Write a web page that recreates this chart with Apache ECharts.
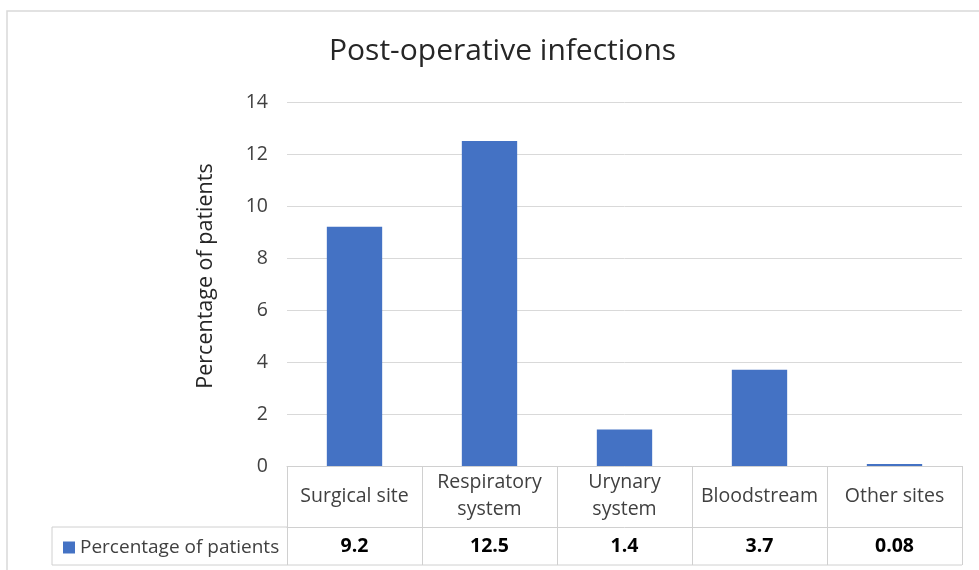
<!DOCTYPE html>
<html>
<head>
<meta charset="utf-8">
<script src="https://cdn.jsdelivr.net/npm/echarts@6/dist/echarts.min.js"></script>
<style>
  html, body { margin: 0; padding: 0; background: #fff; }
  #chart { width: 979px; height: 570px; }
</style>
</head>
<body>
<div id="chart"></div>
<script>
const categories = ["Surgical site", "Respiratory\nsystem", "Urynary\nsystem", "Bloodstream", "Other sites"];
const percentages = [9.2, 12.5, 1.4, 3.7, 0.08];
const valueLabels = ["9.2", "12.5", "1.4", "3.7", "0.08"];
const seriesName = "Percentage of patients";
const yTicks = { min: 0, max: 14, interval: 2 };

const chart = echarts.init(document.getElementById("chart"));
const font = "'Open Sans', Lato, sans-serif";
const lineColor = "#d0d0d0";

const option = {
  animation: false,
  textStyle: { fontFamily: font },
  title: {
    text: "Post-operative infections",
    left: 324,
    top: 31,
    textStyle: { fontSize: 30, fontWeight: "normal", color: "#262626", fontFamily: font },
  },
  legend: {
    data: [seriesName],
    left: 58,
    top: 533,
    icon: "rect",
    itemWidth: 12,
    itemHeight: 12,
    itemGap: 7,
    textStyle: { fontSize: 19, color: "#404040", fontFamily: font },
  },
  grid: { left: 287, right: 17, top: 102, bottom: 104 },
  xAxis: [
    {
      type: "category",
      data: categories,
      position: "bottom",
      axisLine: { lineStyle: { color: lineColor } },
      axisTick: { show: true, length: 61, lineStyle: { color: lineColor } },
      axisLabel: {
        interval: 0,
        fontSize: 19.5,
        lineHeight: 27,
        color: "#404040",
        verticalAlign: "middle",
        margin: 30,
      },
    },
    {
      type: "category",
      data: valueLabels,
      position: "bottom",
      offset: 61,
      axisLine: { show: true, lineStyle: { color: lineColor } },
      axisTick: { show: true, length: 38, lineStyle: { color: lineColor } },
      axisLabel: {
        interval: 0,
        fontSize: 19.5,
        fontWeight: "bold",
        color: "#000",
        verticalAlign: "middle",
        margin: 19,
      },
    },
  ],
  yAxis: {
    type: "value",
    min: yTicks.min,
    max: yTicks.max,
    interval: yTicks.interval,
    name: "Percentage of patients",
    nameLocation: "middle",
    nameGap: 70,
    nameTextStyle: { fontSize: 21.5, color: "#262626", fontFamily: font, padding: [0, 0, 0, 16] },
    axisLine: { show: false },
    axisTick: { show: false },
    axisLabel: { fontSize: 19.5, color: "#404040", margin: 19 },
    splitLine: { lineStyle: { color: "#d9d9d9" } },
  },
  series: [
    {
      name: seriesName,
      type: "bar",
      xAxisIndex: 0,
      data: percentages,
      barWidth: "41%",
      itemStyle: { color: "#4472C4" },
    },
  ],
  graphic: [
    {
      type: "rect",
      silent: true,
      shape: { x: 7, y: 11, width: 1000, height: 600 },
      style: { fill: "none", stroke: "#d9d9d9", lineWidth: 1.5 },
    },
    {
      type: "polyline",
      silent: true,
      shape: { points: [[287, 527], [52, 527], [52, 565], [962, 565]] },
      style: { fill: "none", stroke: lineColor, lineWidth: 1 },
    },
  ],
};

chart.setOption(option);
</script>
</body>
</html>
